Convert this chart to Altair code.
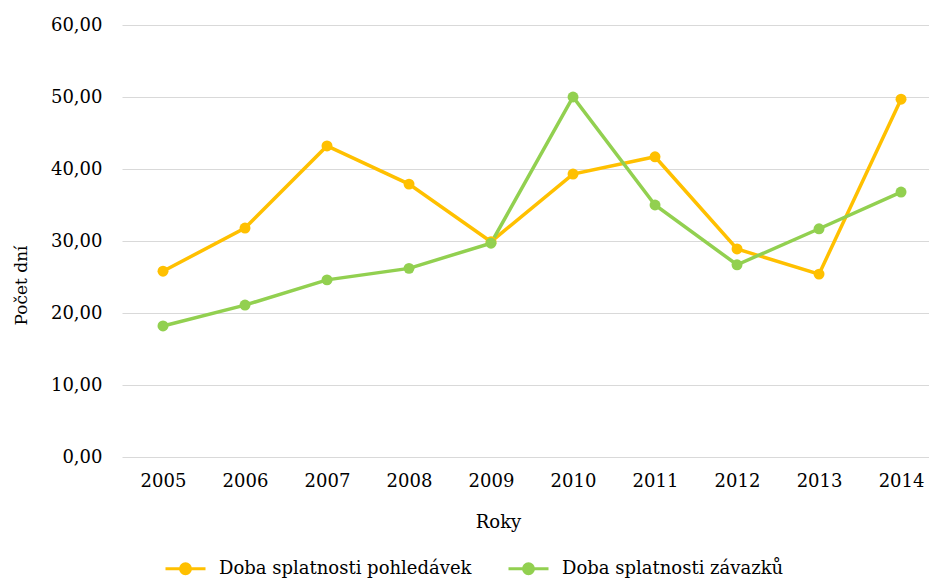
import altair as alt
import pandas as pd

years = [2005, 2006, 2007, 2008, 2009, 2010, 2011, 2012, 2013, 2014]
pohledavky = [25.8, 31.8, 43.2, 37.9, 29.9, 39.3, 41.7, 28.9, 25.4, 49.7]
zavazky = [18.2, 21.1, 24.6, 26.2, 29.7, 50.0, 35.0, 26.7, 31.7, 36.8]
series_names = ["Doba splatnosti pohledávek", "Doba splatnosti závazků"]
colors = ["#FFC000", "#92D050"]
y_ticks = [0, 10, 20, 30, 40, 50, 60]

rows = []
for y, a, b in zip(years, pohledavky, zavazky):
    rows.append({"rok": y, "hodnota": a, "serie": series_names[0]})
    rows.append({"rok": y, "hodnota": b, "serie": series_names[1]})
df = pd.DataFrame(rows)

FONT = "DejaVu Serif"
FS = 18

color = alt.Color(
    "serie:N",
    scale=alt.Scale(domain=series_names, range=colors),
    sort=series_names,
    legend=alt.Legend(
        title=None,
        orient="none",
        direction="horizontal",
        legendX=52,
        legendY=532,
        symbolType="M-2,0H2M-0.5,0A0.5,0.5 0 1,1 0.5,0A0.5,0.5 0 1,1 -0.5,0Z",
        symbolSize=400,
        symbolStrokeWidth=3,
        labelFont=FONT,
        labelFontSize=FS,
        labelColor="#000000",
        labelLimit=500,
        labelOffset=22,
        columnPadding=30,
        symbolOffset=0,
    ),
)

x = alt.X(
    "rok:Q",
    scale=alt.Scale(domain=[2004.5, 2014.341], nice=False, zero=False),
    axis=alt.Axis(
        values=years,
        format="d",
        title="Roky",
        grid=False,
        domain=False,
        ticks=False,
        labelFont=FONT,
        labelFontSize=FS,
        labelColor="#000000",
        labelPadding=15,
        titleFont=FONT,
        titleFontSize=FS,
        titleFontWeight="normal",
        titleColor="#000000",
        titlePadding=23,
        titleX=376,
    ),
)

y = alt.Y(
    "hodnota:Q",
    scale=alt.Scale(domain=[0, 60], nice=False),
    axis=alt.Axis(
        values=y_ticks,
        format=",.2f",
        title="Počet dní",
        grid=True,
        gridColor="#d9d9d9",
        gridWidth=1,
        domain=False,
        ticks=False,
        labelFont=FONT,
        labelFontSize=FS,
        labelColor="#000000",
        labelPadding=20,
        titleFont=FONT,
        titleFontSize=17,
        titleFontWeight="normal",
        titleColor="#000000",
        titlePadding=20,
        titleY=260,
    ),
)

base = alt.Chart(df)
lines = base.mark_line(strokeWidth=3.5).encode(x=x, y=y, color=color)
points = base.mark_circle(size=120, opacity=1).encode(x=x, y=y, color=color)

chart = (
    alt.layer(lines, points)
    .properties(width=807, height=432)
    .configure(
        font=FONT,
        locale={"number": {"decimal": ",", "thousands": " ", "grouping": [3], "currency": ["", " Kč"]}},
        padding={"left": 122, "top": 25, "right": 0, "bottom": 123},
        autosize=alt.AutoSizeParams(type="none"),
    )
    .configure_view(stroke=None)
)

chart.save("out.html", embed_options={"renderer": "svg", "actions": False})
